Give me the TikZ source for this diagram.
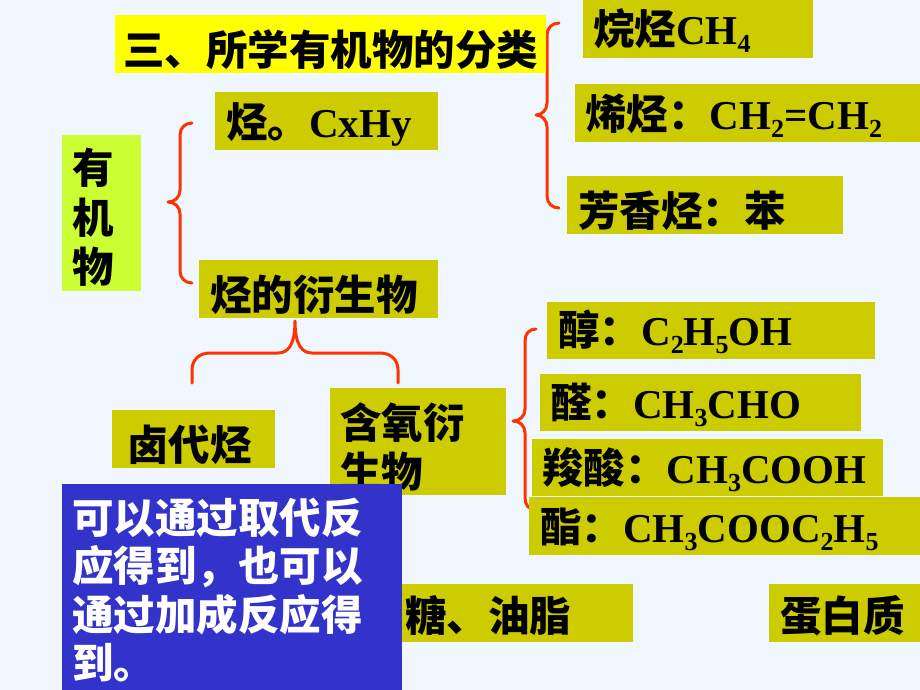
\documentclass[tikz,border=0pt]{standalone}
\usepackage{fontspec}
\setmainfont{Liberation Serif}
\newfontfamily\cjk{Noto Sans CJK SC}
\newcommand\la[1]{{\rmfamily\bfseries\fontsize{41}{48}\selectfont #1}}
\newcommand\dn[1]{\raisebox{-8pt}{\rmfamily\bfseries\fontsize{26}{26}\selectfont #1}}
\definecolor{bg}{HTML}{F0F7FE}
\definecolor{olive}{HTML}{CCCC00}
\definecolor{ttl}{HTML}{FFFF00}
\definecolor{lime}{HTML}{CCFF33}
\definecolor{blu}{HTML}{3333CC}
\definecolor{brc}{HTML}{FF3300}
\tikzset{
  txt/.style={anchor=base west, inner sep=0pt, font=\fontsize{41.5}{48}\selectfont\cjk\bfseries},
  wtxt/.style={txt, text=white},
  bracepath/.style={draw=brc, line width=3pt, line cap=round, line join=round},
}
\begin{document}
\begin{tikzpicture}[x=1pt,y=-1pt]
\useasboundingbox (0,0) rectangle (920,690);
\fill[bg] (0,0) rectangle (920,690);

% braces
\draw[bracepath] (192,123) .. controls (185,123) and (180,128) .. (180,135) -- (180,190)
  .. controls (180,197) and (175,202) .. (168,202) .. controls (175,202) and (180,207) .. (180,214)
  -- (180,271) .. controls (180,278) and (185,283) .. (192,283);
\draw[bracepath] (559,23) .. controls (552,23) and (547,28) .. (547,35) -- (547,103)
  .. controls (547,110) and (542,115) .. (536,115) .. controls (542,115) and (547,120) .. (547,127)
  -- (547,196) .. controls (547,203) and (552,208) .. (559,208);
\draw[bracepath] (536,329) .. controls (529,329) and (525,334) .. (525,341) -- (525,409)
  .. controls (525,416) and (520,421) .. (513,421) .. controls (520,421) and (525,426) .. (525,433)
  -- (525,498) .. controls (525,505) and (529,510) .. (536,510);
\draw[bracepath] (192,383) -- (192,370) .. controls (192,360) and (199,353) .. (210,353) -- (278,353)
  .. controls (288,353) and (295,345) .. (295,321) .. controls (295,345) and (302,353) .. (312,353)
  -- (380,353) .. controls (391,353) and (398,360) .. (398,370) -- (398,383);

% boxes
\fill[ttl] (115,15) rectangle (546,73);
\fill[lime] (62,135) rectangle (141,291);
\fill[olive] (583,0) rectangle (813,58);
\fill[olive] (575,84) rectangle (920,142);
\fill[olive] (567,176) rectangle (843,234);
\fill[olive] (215,92) rectangle (438,150);
\fill[olive] (199,260) rectangle (438,318);
\fill[olive] (112,410) rectangle (275,468);
\fill[olive] (330,388) rectangle (506,495);
\fill[olive] (547,302) rectangle (875,359);
\fill[olive] (540,374) rectangle (861,431);
\fill[olive] (532,439) rectangle (883,496);
\fill[olive] (402,584) rectangle (633,642);
\fill[olive] (769,584) rectangle (920,642);

% texts
\node[txt] (title) at (123,66) {三、所学有机物的分类};
\node[txt] (y1) at (72,183) {有};
\node[txt] (y2) at (72,233) {机};
\node[txt] (y3) at (72,282) {物};
\node[txt] (alkane) at (593,45) {烷烃\la{CH}\dn{4}};
\node[txt] (alkene) at (585,129) {烯烃：\la{CH}\dn{2}\la{=CH}\dn{2}};
\node[txt] (arom) at (578,226) {芳香烃：苯};
\node[txt] (hc) at (226,137) {烃。\la{CxHy}};
\node[txt] (deriv) at (210,310) {烃的衍生物};
\node[txt] (halo) at (127,460) {卤代烃};
\node[txt] (oxy1) at (340,438) {含氧衍};
\node[txt] (oxy2) at (340,487) {生物};
\node[txt] (alc) at (558,345) {醇：\la{C}\dn{2}\la{H}\dn{5}\la{OH}};
\node[txt] (ald) at (550,418) {醛：\la{CH}\dn{3}\la{CHO}};
\node[txt] (acid) at (542,483) {羧酸：\la{CH}\dn{3}\la{COOH}};

\fill[olive] (529,497) rectangle (920,555);
\node[txt] (ester) at (540,542) {酯：\la{CH}\dn{3}\la{COOC}\dn{2}\la{H}\dn{5}};
\node[txt] (sugar) at (405,631) {糖、油脂};
\node[txt] (prot) at (780,631) {蛋白质};

% blue note
\fill[blu] (62,484) rectangle (402,690);
\node[wtxt] (n1) at (72,533) {可以通过取代反};
\node[wtxt] (n2) at (72,581) {应得到，也可以};
\node[wtxt] (n3) at (72,630) {通过加成反应得};
\node[wtxt] (n4) at (72,678) {到。};
\end{tikzpicture}
\end{document}
